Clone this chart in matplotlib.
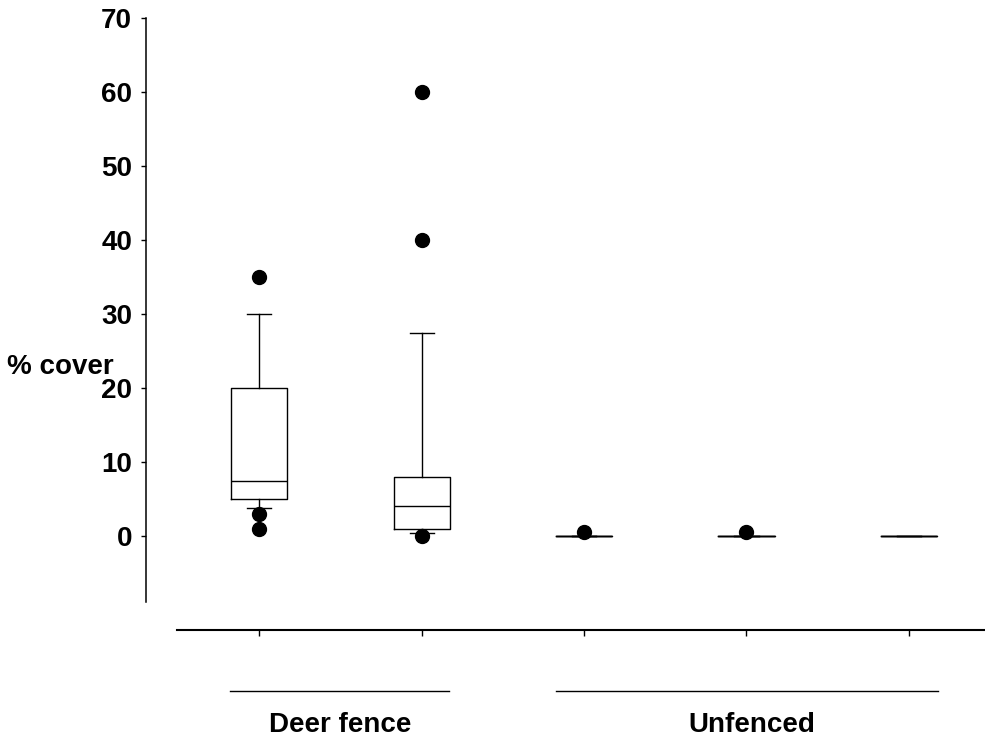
import matplotlib
matplotlib.use("Agg")
from matplotlib import pyplot as plt

# box statistics, one entry per column
positions = [1, 2, 3, 4, 5]
q1_values = [5, 1, 0, 0, 0]
median_values = [7.5, 4, 0, 0, 0]
q3_values = [20, 8, 0, 0, 0]
whisker_low = [3.8, 0.4, 0, 0, 0]
whisker_high = [30, 27.4, 0, 0, 0]
outliers = [[35, 3, 1], [60, 40, 0], [0.5], [0.5], []]

y_ticks = [0, 10, 20, 30, 40, 50, 60, 70]
group_names = ["Deer fence", "Unfenced"]
group_spans = [(0.82, 2.17), (2.83, 5.18)]
group_label_x = [1.5, 4.03]

plt.rcParams['font.family'] = ['Liberation Sans', 'DejaVu Sans']
plt.rcParams['font.weight'] = 'bold'

fig = plt.figure(figsize=(9.85, 7.34), dpi=100)
ax = fig.add_axes([177/985, 104/734, 808/985, 612/734])

stats = []
for i in range(len(positions)):
    stats.append({
        "med": median_values[i], "q1": q1_values[i], "q3": q3_values[i],
        "whislo": whisker_low[i], "whishi": whisker_high[i],
        "fliers": outliers[i],
    })

line_style = dict(color="black", linewidth=1.0)
ax.bxp(stats, positions=positions, widths=0.345, capwidths=0.148,
       boxprops=line_style, medianprops=line_style, whiskerprops=line_style,
       capprops=line_style,
       flierprops=dict(marker="o", markerfacecolor="black", markeredgecolor="black",
                       markersize=10, linestyle="none"))

ax.set_xlim(0.495, 5.468)
ax.set_ylim(-12.7, 70)

# left axis sits out to the left, bottom axis is the separate line
ax.spines['top'].set_visible(False)
ax.spines['right'].set_visible(False)
ax.spines['left'].set_position(('outward', 22.3))
ax.spines['left'].set_bounds(-8.9, 70)
ax.spines['left'].set_linewidth(1.1)
ax.spines['bottom'].set_linewidth(1.5)

ax.set_yticks(y_ticks)
ax.set_yticklabels([str(v) for v in y_ticks], fontsize=20, fontweight='bold')
ax.set_xticks(positions)
ax.set_xticklabels([])
ax.tick_params(axis='y', length=3.5, width=1.0, pad=6.5)
ax.tick_params(axis='x', length=4, width=1.0, direction='out')

ax.set_ylabel("% cover", rotation=0, fontsize=20, fontweight='bold', ha='left', va='center')
ax.yaxis.set_label_coords(-170/808, (630-367)/612)

# group lines and labels under the axis
for name, (x0, x1), lx in zip(group_names, group_spans, group_label_x):
    ax.plot([x0, x1], [-20.9, -20.9], color="black", linewidth=1.0, clip_on=False)
    ax.text(lx, -26.5, name, ha='center', va='baseline',
            fontsize=20, fontweight='bold')

fig.savefig("out.png", dpi=100)
